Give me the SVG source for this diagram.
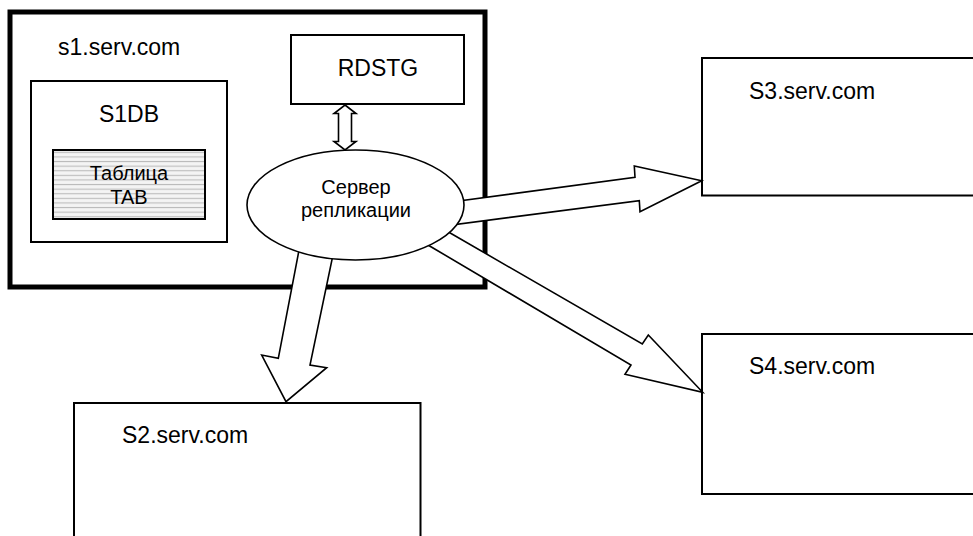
<svg xmlns="http://www.w3.org/2000/svg" width="973" height="536" viewBox="0 0 973 536">
<style>
.box{fill:#fff;stroke:#000;stroke-width:2}
.arr{fill:#fff;stroke:#000;stroke-width:1.6;stroke-linejoin:miter}
text{font-family:"Liberation Sans",Arial,sans-serif;fill:#000}
.t23{font-size:23px}
.t20{font-size:20px}
</style>
<defs>
<pattern id="stripes" patternUnits="userSpaceOnUse" x="0" y="150" width="10" height="4.6">
<rect width="10" height="4.6" fill="#f4f4f4"/>
<rect y="1.8" width="10" height="1.1" fill="#bcbcbc"/>
</pattern>
</defs>
<g id="s1">
<rect x="10" y="12" width="475" height="275" fill="#fff" stroke="#000" stroke-width="5"/>
<text class="t23" x="58" y="55">s1.serv.com</text>
</g>
<g id="rdstg">
<rect class="box" x="291" y="35" width="173" height="69"/>
<text class="t23" x="378" y="76" text-anchor="middle">RDSTG</text>
</g>
<g id="s1db">
<rect class="box" x="31" y="81" width="196" height="161"/>
<text class="t23" x="129" y="122" text-anchor="middle">S1DB</text>
</g>
<g id="tab">
<rect x="53" y="150" width="152" height="69" fill="url(#stripes)" stroke="#000" stroke-width="2"/>
<text class="t20" x="129" y="180" text-anchor="middle">Таблица</text>
<text class="t20" x="129" y="204" text-anchor="middle">TAB</text>
</g>
<g id="s3">
<rect class="box" x="702" y="58" width="300" height="137.5"/>
<text class="t23" x="749" y="99">S3.serv.com</text>
</g>
<g id="s4">
<rect class="box" x="702" y="334" width="300" height="160"/>
<text class="t23" x="749" y="374">S4.serv.com</text>
</g>
<g id="s2">
<rect class="box" x="74" y="403" width="346.5" height="160"/>
<text class="t23" x="122" y="443">S2.serv.com</text>
</g>
<g id="connectors">
<polygon class="arr" points="345,105 356,113.5 351.5,113.5 351.5,141.5 356,141.5 345,150 334,141.5 338.5,141.5 338.5,113.5 334,113.5"/>
<polygon class="arr" points="455,201.5 635,177.3 634.3,166 701.7,180.7 640,211.7 639.3,200.7 455,224.5"/>
<polygon class="arr" points="445,230 642.3,344 648.3,335 702.7,392.3 625,374.3 631,365 428,245"/>
<polygon class="arr" points="300,245 334,250 310,365 326.7,367.7 286,401.7 261.7,355 278.3,358.3"/>
</g>
<g id="server">
<ellipse cx="355.5" cy="205" rx="108.5" ry="55" fill="#fff" stroke="#000" stroke-width="1.6"/>
<text class="t20" x="356" y="194" text-anchor="middle">Сервер</text>
<text class="t20" x="356" y="217" text-anchor="middle">репликации</text>
</g>
</svg>
